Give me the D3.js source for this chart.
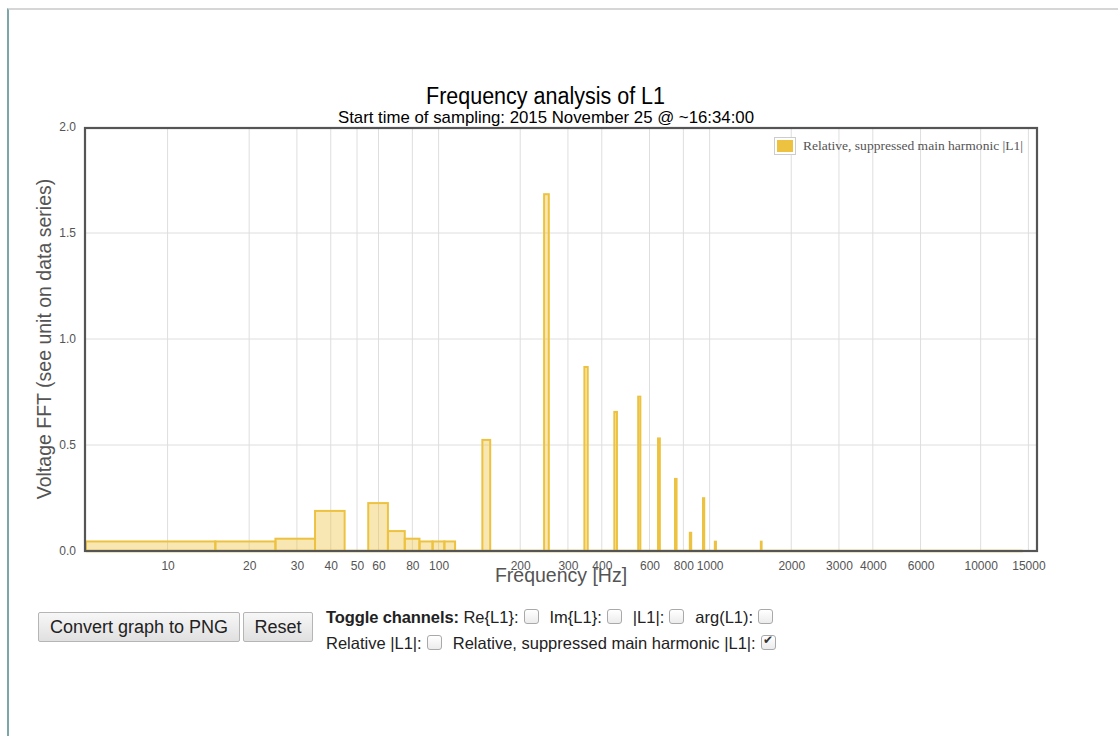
<!DOCTYPE html>
<html>
<head>
<meta charset="utf-8">
<script src="https://cdn.jsdelivr.net/npm/d3@7"></script>
<style>
  html, body { margin: 0; padding: 0; background: #fff; }
  body { width: 1118px; height: 736px; position: relative; overflow: hidden; font-family: Arial, "Liberation Sans", sans-serif; }
  #frame { position: absolute; left: 7px; top: 8px; right: 0; bottom: 0; border-top: 2px solid #d6d6d6; border-left: 2px solid #7ba7ab; }
  svg { position: absolute; left: 0; top: 0; }
  .btn { position: absolute; top: 612px; height: 30px; box-sizing: border-box; font: 18px Arial, "Liberation Sans", sans-serif; color: #222;
         background: linear-gradient(#f7f7f7, #e0e0e0); border: 1px solid #b5b5b5; border-radius: 2px; padding: 0; }
  #toggles { position: absolute; left: 326px; top: 604px; width: 500px; font: 16.5px Arial, "Liberation Sans", sans-serif; color: #222; line-height: 26px; white-space: nowrap; }
  #toggles b { letter-spacing: -0.1px; }
  #toggles input { -webkit-appearance: none; appearance: none; box-sizing: border-box; width: 15px; height: 15px; margin: 0 11px 0 5px; vertical-align: -1px;
                   border: 1px solid #a9a9a9; border-radius: 3px; background: linear-gradient(#ffffff, #ececec); position: relative; }
  #toggles input:checked::after { content: "\2714"; position: absolute; left: 1.5px; top: -3px; font-size: 12px; color: #333; }
</style>
</head>
<body>
<div id="frame"></div>
<svg id="chart" width="1118" height="736"></svg>
<button class="btn" style="left:38px;width:202px;">Convert graph to PNG</button>
<button class="btn" style="left:243px;width:70px;">Reset</button>
<div id="toggles"></div>
<script>
// ---- data ----
const binFreqs = [10, 20, 30, 40, 50, 60, 70, 80, 90, 100, 110, 150, 250, 350, 450, 550, 650, 750, 850, 950, 1050, 1550];
const binValues = [0.045, 0.045, 0.058, 0.189, 0, 0.226, 0.094, 0.058, 0.045, 0.045, 0.045, 0.524, 1.683, 0.868, 0.656, 0.728, 0.531, 0.34, 0.086, 0.249, 0.044, 0.044];
const binWidthHz = 10;
const dataExtentHz = [5, 14300];
const xTickValues = [10, 20, 30, 40, 50, 60, 80, 100, 200, 300, 400, 600, 800, 1000, 2000, 3000, 4000, 6000, 10000, 15000];
const xTickLabels = ["10", "20", "30", "40", "50", "60", "80", "100", "200", "300", "400", "600", "800", "1000", "2000", "3000", "4000", "6000", "10000", "15000"];
const yTickValues = [0, 0.5, 1.0, 1.5, 2.0];
const channelLabels = ["Re{L1}:", "Im{L1}:", "|L1|:", "arg(L1):", "Relative |L1|:", "Relative, suppressed main harmonic |L1|:"];
const channelChecked = [false, false, false, false, false, true];
const seriesName = "Relative, suppressed main harmonic |L1|";
const titleText = "Frequency analysis of L1";
const subtitleText = "Start time of sampling: 2015 November 25 @ ~16:34:00";

// ---- layout ----
const plot = { left: 84, right: 1038, top: 127, bottom: 551 };
const color = "#edc240";
const svg = d3.select("#chart");
const sans = "Arial, 'Liberation Sans', sans-serif";

const x = d3.scaleLog().domain([5, 16000]).range([86, 1036]);
const y = d3.scaleLinear().domain([0, 2]).range([plot.bottom, plot.top]);

// grid
const grid = svg.append("g");
grid.selectAll("line.vx").data(xTickValues).join("line")
  .attr("x1", d => x(d)).attr("x2", d => x(d))
  .attr("y1", plot.top).attr("y2", plot.bottom)
  .attr("stroke", "#dedede").attr("stroke-width", 1);
grid.selectAll("line.hy").data(yTickValues.slice(1, -1)).join("line")
  .attr("x1", plot.left).attr("x2", plot.right)
  .attr("y1", d => y(d)).attr("y2", d => y(d))
  .attr("stroke", "#dedede").attr("stroke-width", 1);

// baseline (zero-valued bins)
svg.append("line")
  .attr("x1", x(dataExtentHz[0])).attr("x2", x(dataExtentHz[1]))
  .attr("y1", y(0)).attr("y2", y(0))
  .attr("stroke", color).attr("stroke-width", 2.5);

// bars
const bars = binFreqs.map((f, i) => ({ f, v: binValues[i] }));
svg.append("g").selectAll("rect").data(bars).join("rect")
  .attr("x", d => x(d.f - binWidthHz / 2))
  .attr("width", d => x(d.f + binWidthHz / 2) - x(d.f - binWidthHz / 2))
  .attr("y", d => y(d.v))
  .attr("height", d => y(0) - y(d.v))
  .attr("fill", "rgba(237,194,64,0.4)")
  .attr("stroke", color).attr("stroke-width", 2);

// border
svg.append("rect")
  .attr("x", plot.left + 1).attr("y", plot.top + 1)
  .attr("width", plot.right - plot.left - 2).attr("height", plot.bottom - plot.top - 1)
  .attr("fill", "none").attr("stroke", "#555555").attr("stroke-width", 2.2);

// axes
const xAxis = d3.axisBottom(x).tickValues(xTickValues)
  .tickFormat((d, i) => xTickLabels[i]).tickSize(0).tickPadding(10);
const gx = svg.append("g").attr("transform", `translate(0,${plot.bottom})`).call(xAxis);
gx.select(".domain").remove();
gx.selectAll("text").attr("font-family", sans).attr("font-size", 12).attr("fill", "#545454");

const yAxis = d3.axisLeft(y).tickValues(yTickValues).tickFormat(d3.format(".1f")).tickSize(0).tickPadding(8);
const gy = svg.append("g").attr("transform", `translate(${plot.left},0)`).call(yAxis);
gy.select(".domain").remove();
gy.selectAll("text").attr("font-family", sans).attr("font-size", 12).attr("fill", "#545454");

// axis labels
svg.append("text")
  .attr("transform", `translate(51,${(plot.top + plot.bottom) / 2}) rotate(-90)`)
  .attr("text-anchor", "middle")
  .attr("font-family", sans).attr("font-size", 19.5)
  .attr("fill", "#545454")
  .text("Voltage FFT (see unit on data series)");
svg.append("text")
  .attr("x", (plot.left + plot.right) / 2).attr("y", 582)
  .attr("text-anchor", "middle")
  .attr("font-family", sans).attr("font-size", 19.5)
  .attr("fill", "#545454")
  .text("Frequency [Hz]");

// titles
svg.append("text")
  .attr("x", 426).attr("y", 104)
  .attr("font-family", sans).attr("font-size", 23)
  .attr("fill", "#000")
  .attr("textLength", 239).attr("lengthAdjust", "spacingAndGlyphs")
  .text(titleText);
svg.append("text")
  .attr("x", 338).attr("y", 123)
  .attr("font-family", sans).attr("font-size", 17)
  .attr("fill", "#000")
  .attr("textLength", 416).attr("lengthAdjust", "spacingAndGlyphs")
  .text(subtitleText);

// legend
const lg = svg.append("g");
lg.append("rect").attr("x", 774.5).attr("y", 137.5).attr("width", 21).attr("height", 17)
  .attr("fill", "#fff").attr("stroke", "#cccccc").attr("stroke-width", 1);
lg.append("rect").attr("x", 777).attr("y", 140).attr("width", 16).attr("height", 12).attr("fill", color);
lg.append("text").attr("x", 803).attr("y", 150)
  .attr("font-family", "'Liberation Serif', 'Times New Roman', serif").attr("font-size", 11.5)
  .attr("fill", "#545454")
  .attr("textLength", 220).attr("lengthAdjust", "spacingAndGlyphs")
  .text(seriesName);

// toggles
const tg = d3.select("#toggles");
tg.append("b").text("Toggle channels:");
tg.append("span").text(" ");
channelLabels.forEach((lab, i) => {
  if (i === 4) tg.append("br");
  tg.append("span").text(lab);
  tg.append("input").attr("type", "checkbox").property("checked", channelChecked[i]);
});
</script>
</body>
</html>
